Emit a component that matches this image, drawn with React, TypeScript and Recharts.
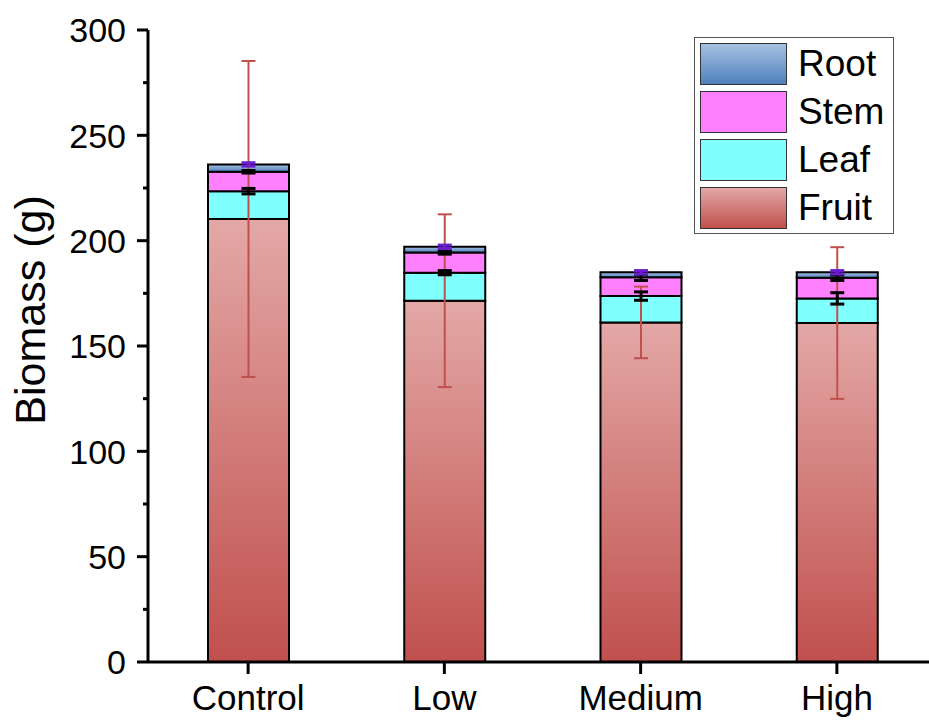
import React from 'react';
import { BarChart, Bar, XAxis, YAxis, ErrorBar, Legend } from 'recharts';

const categories = ['Control', 'Low', 'Medium', 'High'];
const fruit = [210.3, 171.5, 161.2, 160.9];
const leaf = [13.2, 13.3, 12.5, 11.7];
const stem = [9.2, 9.6, 8.9, 9.8];
const root = [3.5, 2.7, 2.4, 2.6];
const fruitErr = [75, 41, 17, 36];
const leafErr = [1.3, 1, 2, 2.7];
const stemErr = [0.6, 0.8, 1.5, 1.3];
const rootErr = [0.8, 0.8, 0.8, 0.8];
const yTicks = [0, 25, 50, 75, 100, 125, 150, 175, 200, 225, 250, 275, 300];
const legendOrder = ['Root', 'Stem', 'Leaf', 'Fruit'];

const FONT = '"Liberation Sans", Arial, sans-serif';
const Y_TICK = 11;
const Y_GAP = 11;

const data = categories.map((name, i) => ({
  name,
  Fruit: fruit[i], fruitErr: fruitErr[i],
  Leaf: leaf[i], leafErr: leafErr[i],
  Stem: stem[i], stemErr: stemErr[i],
  Root: root[i], rootErr: rootErr[i],
}));

const swatch: Record<string, string> = {
  Root: 'linear-gradient(#a6c1e3, #4f81bd)',
  Stem: '#ff80ff',
  Leaf: '#80ffff',
  Fruit: 'linear-gradient(#e3a8a6, #c0504d)',
};

function YTick(props: any) {
  const { x, y, payload } = props;
  const axisX = x + Y_TICK + Y_GAP;
  const major = payload.value % 50 === 0;
  return (
    <g>
      <line x1={axisX} x2={axisX - (major ? Y_TICK : 5)} y1={y} y2={y} stroke="#000" strokeWidth={3} />
      {major && (
        <text x={x} y={y} dy="0.36em" textAnchor="end" fontSize={34} fontFamily={FONT} fill="#000">
          {payload.value}
        </text>
      )}
    </g>
  );
}

function LegendBox() {
  return (
    <div style={{ position: 'relative', width: 200, height: 197, border: '1px solid #555', background: '#fff', boxSizing: 'border-box' }}>
      {legendOrder.map((name, i) => (
        <div key={name} style={{ position: 'absolute', left: 5, top: 5 + i * 48, height: 42, display: 'flex', alignItems: 'center' }}>
          <div style={{ width: 87, height: 42, background: swatch[name], border: '1.5px solid #333', boxSizing: 'border-box' }} />
          <span style={{ marginLeft: 11, fontSize: 37, fontFamily: FONT, color: '#000', lineHeight: '42px' }}>{name}</span>
        </div>
      ))}
    </div>
  );
}

export default function App() {
  return (
    <div style={{ position: 'absolute', left: 0, top: 0, width: 929, height: 721, overflow: 'hidden', background: '#fff' }}>
      <BarChart width={942} height={721} data={data} margin={{ top: 30, right: 7, bottom: 0, left: 0 }} barSize={81}>
        <defs>
          <linearGradient id="gFruit" x1="0" x2="0" y1="0" y2="1">
            <stop offset="0%" stopColor="#e3a8a6" />
            <stop offset="100%" stopColor="#c0504d" />
          </linearGradient>
          <linearGradient id="gRoot" x1="0" x2="0" y1="0" y2="1">
            <stop offset="0%" stopColor="#a6c1e3" />
            <stop offset="100%" stopColor="#4f81bd" />
          </linearGradient>
        </defs>
        <XAxis
          dataKey="name"
          height={59}
          padding={{ left: 2, right: 0 }}
          axisLine={{ stroke: '#000', strokeWidth: 3 }}
          tickLine={{ stroke: '#000', strokeWidth: 3 }}
          tickSize={12}
          tickMargin={11}
          tick={{ fill: '#000', fontSize: 35, fontFamily: FONT }}
        />
        <YAxis
          width={148}
          domain={[0, 300]}
          ticks={yTicks}
          interval={0}
          allowDataOverflow
          axisLine={{ stroke: '#000', strokeWidth: 3 }}
          tickLine={false}
          tickSize={Y_TICK}
          tickMargin={Y_GAP}
          tick={<YTick />}
          label={{
            content: (p: any) => {
              const vb = p.viewBox;
              const cx = vb.x + 30;
              const cy = vb.y + vb.height / 2 - 36;
              return (
                <text x={cx} y={cy} transform={`rotate(-90 ${cx} ${cy})`} textAnchor="middle" dominantBaseline="central"
                  fontSize={43} fontFamily={FONT} fill="#000">Biomass (g)</text>
              );
            },
          }}
        />
        <Legend
          layout="vertical"
          align="center"
          verticalAlign="middle"
          content={() => <LegendBox />}
          wrapperStyle={{ position: 'absolute', top: 37, left: 694, width: 200, height: 197 }}
        />
        <Bar dataKey="Fruit" stackId="a" fill="url(#gFruit)" stroke="#000" strokeWidth={2} isAnimationActive={false}>
          <ErrorBar dataKey="fruitErr" direction="y" width={7} stroke="#c0504d" strokeWidth={2} />
        </Bar>
        <Bar dataKey="Leaf" stackId="a" fill="#80ffff" stroke="#000" strokeWidth={2} isAnimationActive={false}>
          <ErrorBar dataKey="leafErr" direction="y" width={7} stroke="#000" strokeWidth={3} />
        </Bar>
        <Bar dataKey="Stem" stackId="a" fill="#ff80ff" stroke="#000" strokeWidth={2} isAnimationActive={false}>
          <ErrorBar dataKey="stemErr" direction="y" width={7} stroke="#000" strokeWidth={3} />
        </Bar>
        <Bar dataKey="Root" stackId="a" fill="url(#gRoot)" stroke="#000" strokeWidth={2} isAnimationActive={false}>
          <ErrorBar dataKey="rootErr" direction="y" width={7} stroke="#6a1ecf" strokeWidth={3} />
        </Bar>
      </BarChart>
    </div>
  );
}
